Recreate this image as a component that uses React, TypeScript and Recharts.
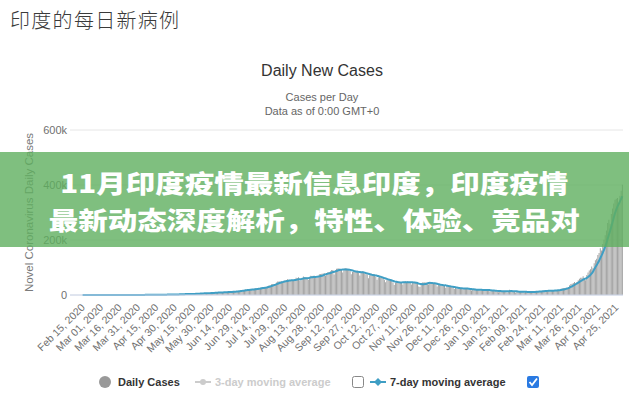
import React from 'react'
import { ComposedChart, Bar, Line, XAxis, YAxis, CartesianGrid, Label } from 'recharts'

// daily new cases in India, thousands
const casesFeb2020 = [0, 0, 0, 0, 0, 0, 0, 0, 0, 0, 0, 0, 0, 0, 0]
const casesMar2020 = [0, 0, 0, 0, 0, 0, 0, 0, 0, 0, 0, 0, 0, 0, 0, 0, 0, 0, 0, 0.1, 0.1, 0.1, 0.1, 0.1, 0.1, 0.1, 0.2, 0.2, 0.1, 0.2, 0.1]
const casesApr2020 = [0.4, 0.5, 0.6, 0.6, 0.5, 0.7, 0.5, 0.6, 0.8, 0.9, 0.9, 0.8, 0.9, 1.5, 0.9, 1.1, 1.0, 1.1, 1.3, 1.5, 1.5, 1.4, 1.5, 1.8, 1.8, 1.7, 1.5, 1.6, 1.8, 1.7]
const casesMay2020 = [2.0, 2.3, 2.6, 3.9, 2.9, 3.6, 3.3, 3.3, 3.3, 4.2, 3.6, 3.5, 3.8, 3.8, 3.9, 4.9, 5.0, 4.6, 5.6, 5.6, 6.1, 6.7, 6.8, 6.6, 6.5, 6.4, 6.4, 7.3, 7.9, 8.4, 8.8]
const casesJun2020 = [7.8, 8.1, 9.6, 9.3, 9.8, 10.4, 9.9, 8.4, 10.0, 11.0, 10.9, 11.9, 12.0, 11.5, 10.0, 11.1, 13.1, 12.9, 14.5, 14.8, 15.4, 14.8, 15.7, 16.9, 17.3, 18.6, 19.6, 19.5, 19.5, 18.9]
const casesJul2020 = [19.1, 21.9, 21.0, 22.8, 24.2, 22.3, 23.1, 24.9, 26.5, 27.1, 27.7, 28.6, 28.5, 29.1, 32.5, 34.8, 35.0, 38.9, 40.4, 40.2, 37.1, 45.7, 48.9, 49.3, 49.0, 49.9, 46.8, 48.5, 52.3, 54.9, 57.1]
const casesAug2020 = [55.1, 53.6, 52.5, 52.5, 52.5, 56.3, 62.5, 62.0, 64.4, 52.5, 53.6, 61.0, 66.9, 64.5, 64.7, 63.5, 54.3, 64.6, 69.7, 68.9, 69.9, 70.0, 61.4, 61.4, 67.2, 75.8, 76.8, 77.3, 78.5, 78.8, 69.9]
const casesSep2020 = [78.4, 83.9, 83.9, 86.4, 90.6, 90.6, 75.0, 89.7, 95.7, 96.6, 97.6, 94.4, 93.2, 81.9, 90.1, 97.9, 96.4, 93.3, 92.6, 86.9, 75.1, 83.3, 86.5, 86.1, 86.0, 88.6, 82.8, 70.6, 80.5, 86.8]
const casesOct2020 = [81.5, 79.5, 75.8, 74.4, 61.3, 72.0, 78.5, 70.5, 73.3, 74.4, 66.7, 55.3, 63.5, 67.7, 63.4, 62.2, 61.9, 55.7, 46.8, 54.0, 54.4, 56.0, 53.4, 50.1, 45.1, 36.5, 43.9, 49.9, 48.6, 48.3, 46.9]
const casesNov2020 = [46.2, 38.3, 46.3, 50.2, 47.6, 50.4, 46.3, 45.6, 38.1, 44.3, 47.9, 44.9, 44.7, 41.1, 30.5, 29.2, 38.6, 45.6, 45.9, 46.2, 45.2, 44.1, 37.9, 44.4, 44.5, 43.1, 41.3, 41.8, 38.8, 31.1]
const casesDec2020 = [36.6, 35.6, 35.6, 36.6, 36.7, 32.9, 26.6, 32.1, 31.5, 29.4, 30.0, 30.3, 27.1, 22.1, 26.4, 24.0, 22.9, 25.2, 25.1, 24.3, 19.6, 23.9, 23.9, 24.7, 23.1, 18.7, 20.0, 16.4, 21.0, 20.6, 20.0]
const casesJan2021 = [19.1, 18.2, 18.2, 16.5, 18.1, 20.3, 18.1, 18.1, 18.6, 18.6, 16.3, 12.6, 15.9, 16.9, 15.6, 15.2, 15.1, 13.8, 10.1, 13.8, 15.2, 14.5, 14.3, 14.0, 13.2, 9.1, 12.7, 18.9, 18.1, 13.1, 13.0]
const casesFeb2021 = [11.4, 8.6, 11.0, 12.9, 12.4, 11.7, 11.8, 11.8, 9.1, 11.0, 12.9, 9.3, 12.1, 12.2, 11.6, 9.1, 11.6, 12.9, 13.2, 13.9, 14.3, 14.2, 10.6, 13.7, 16.7, 16.6, 16.5, 16.8]
const casesMar2021 = [15.5, 12.3, 15.0, 17.4, 16.8, 18.3, 18.6, 18.7, 15.4, 17.9, 22.8, 23.3, 24.9, 25.3, 26.3, 24.5, 28.9, 35.9, 39.7, 40.9, 43.8, 46.9, 40.7, 47.3, 53.5, 59.1, 62.3, 62.6, 68.0, 56.2, 53.5]
const casesApr2021 = [72.3, 81.4, 89.1, 93.2, 103.6, 96.9, 115.3, 126.8, 131.9, 145.4, 152.9, 169.9, 161.7, 185.3, 200.7, 217.4, 234.7, 261.4, 273.8, 259.2, 295.0, 314.6, 332.5, 346.8, 349.7, 352.9, 323.1, 360.9, 379.3, 401.0]

// 7-day moving average, thousands
const avgFeb2020 = [0, 0, 0, 0, 0, 0, 0, 0, 0, 0, 0, 0, 0, 0, 0]
const avgMar2020 = [0, 0, 0, 0, 0, 0, 0, 0, 0, 0, 0, 0, 0, 0, 0, 0, 0, 0, 0, 0, 0.1, 0.1, 0.1, 0.1, 0.1, 0.1, 0.1, 0.1, 0.1, 0.1, 0.1]
const avgApr2020 = [0.2, 0.2, 0.3, 0.4, 0.4, 0.5, 0.5, 0.6, 0.6, 0.7, 0.7, 0.7, 0.8, 0.9, 1.0, 1.0, 1.0, 1.0, 1.1, 1.2, 1.2, 1.3, 1.3, 1.4, 1.5, 1.6, 1.6, 1.6, 1.7, 1.7]
const avgMay2020 = [1.7, 1.8, 1.9, 2.3, 2.5, 2.7, 2.9, 3.1, 3.3, 3.5, 3.5, 3.5, 3.6, 3.6, 3.7, 4.0, 4.1, 4.2, 4.5, 4.8, 5.1, 5.5, 5.8, 6.0, 6.3, 6.4, 6.5, 6.7, 6.8, 7.1, 7.4]
const avgJun2020 = [7.6, 7.8, 8.3, 8.6, 8.8, 9.1, 9.3, 9.4, 9.6, 9.8, 10.1, 10.4, 10.6, 10.8, 11.0, 11.2, 11.5, 11.8, 12.2, 12.6, 13.1, 13.8, 14.5, 15.0, 15.6, 16.2, 16.9, 17.5, 18.2, 18.6]
const avgJul2020 = [18.9, 19.6, 19.9, 20.4, 21.1, 21.5, 22.1, 22.9, 23.5, 24.4, 25.1, 25.7, 26.6, 27.5, 28.6, 29.8, 30.9, 32.5, 34.2, 35.8, 37.0, 38.9, 40.9, 42.9, 44.4, 45.7, 46.7, 48.3, 49.2, 50.1, 51.2]
const avgAug2020 = [52.1, 52.6, 53.4, 54.0, 54.0, 54.2, 55.0, 56.0, 57.5, 57.5, 57.7, 58.9, 60.4, 60.7, 61.1, 61.0, 61.2, 62.8, 64.0, 64.3, 65.1, 65.8, 65.5, 66.6, 66.9, 67.8, 68.9, 70.0, 71.2, 73.7, 74.9]
const avgSep2020 = [76.5, 77.7, 78.7, 80.0, 81.7, 83.4, 84.1, 85.7, 87.4, 89.2, 90.8, 91.4, 91.7, 92.7, 92.8, 93.1, 93.1, 92.5, 92.2, 91.3, 90.3, 89.4, 87.7, 86.3, 85.2, 84.6, 84.1, 83.4, 83.0, 83.1]
const avgOct2020 = [82.4, 81.5, 79.6, 78.4, 77.1, 75.9, 74.7, 73.1, 72.3, 72.1, 71.0, 70.1, 68.9, 67.3, 66.3, 64.7, 63.0, 61.4, 60.2, 58.8, 56.9, 55.9, 54.6, 52.9, 51.4, 49.9, 48.5, 47.8, 46.8, 46.1, 45.6]
const avgNov2020 = [45.8, 46.0, 46.4, 46.4, 46.2, 46.6, 46.5, 46.4, 46.4, 46.1, 45.7, 45.4, 44.5, 43.8, 41.6, 40.4, 39.6, 39.2, 39.4, 39.6, 40.2, 42.1, 43.4, 44.2, 44.0, 43.6, 42.9, 42.4, 41.7, 40.7]
const avgDec2020 = [39.6, 38.3, 37.3, 36.6, 35.9, 35.0, 35.1, 33.7, 33.1, 32.3, 31.3, 30.4, 29.6, 28.9, 28.1, 27.0, 26.1, 25.4, 24.7, 24.3, 23.9, 23.6, 23.6, 23.8, 23.5, 22.6, 22.0, 21.5, 21.1, 20.6, 20.0]
const avgJan2021 = [19.4, 19.3, 19.1, 19.1, 18.7, 18.6, 18.4, 18.2, 18.3, 18.3, 18.3, 17.5, 16.9, 16.7, 16.4, 15.9, 15.4, 15.0, 14.7, 14.4, 14.1, 14.0, 13.8, 13.7, 13.6, 13.4, 13.3, 13.8, 14.3, 14.2, 14.0]
const avgFeb2021 = [13.8, 13.7, 13.4, 12.6, 11.8, 11.6, 11.4, 11.5, 11.5, 11.5, 11.5, 11.1, 11.1, 11.2, 11.2, 11.2, 11.3, 11.3, 11.8, 12.1, 12.4, 12.7, 12.9, 13.3, 13.8, 14.3, 14.7, 15.0]
const avgMar2021 = [15.2, 15.4, 15.6, 15.7, 15.8, 16.0, 16.3, 16.7, 17.2, 17.6, 18.4, 19.3, 20.2, 21.2, 22.3, 23.6, 25.1, 27.0, 29.4, 31.6, 34.3, 37.2, 39.5, 42.2, 44.7, 47.5, 50.5, 53.2, 56.2, 58.4, 59.3]
const avgApr2021 = [62.0, 65.2, 69.0, 73.4, 78.5, 84.3, 93.1, 100.9, 108.1, 116.2, 124.7, 134.2, 143.4, 153.4, 164.0, 176.2, 188.9, 204.4, 219.3, 233.2, 248.9, 265.2, 281.6, 297.6, 310.2, 321.5, 330.7, 340.1, 349.3, 359.1]

const months = [
  { name: 'Feb', year: 2020, first: 15, cases: casesFeb2020, avg: avgFeb2020 },
  { name: 'Mar', year: 2020, first: 1, cases: casesMar2020, avg: avgMar2020 },
  { name: 'Apr', year: 2020, first: 1, cases: casesApr2020, avg: avgApr2020 },
  { name: 'May', year: 2020, first: 1, cases: casesMay2020, avg: avgMay2020 },
  { name: 'Jun', year: 2020, first: 1, cases: casesJun2020, avg: avgJun2020 },
  { name: 'Jul', year: 2020, first: 1, cases: casesJul2020, avg: avgJul2020 },
  { name: 'Aug', year: 2020, first: 1, cases: casesAug2020, avg: avgAug2020 },
  { name: 'Sep', year: 2020, first: 1, cases: casesSep2020, avg: avgSep2020 },
  { name: 'Oct', year: 2020, first: 1, cases: casesOct2020, avg: avgOct2020 },
  { name: 'Nov', year: 2020, first: 1, cases: casesNov2020, avg: avgNov2020 },
  { name: 'Dec', year: 2020, first: 1, cases: casesDec2020, avg: avgDec2020 },
  { name: 'Jan', year: 2021, first: 1, cases: casesJan2021, avg: avgJan2021 },
  { name: 'Feb', year: 2021, first: 1, cases: casesFeb2021, avg: avgFeb2021 },
  { name: 'Mar', year: 2021, first: 1, cases: casesMar2021, avg: avgMar2021 },
  { name: 'Apr', year: 2021, first: 1, cases: casesApr2021, avg: avgApr2021 },
]

const tickLabels = [
  'Feb 15, 2020', 'Mar 01, 2020', 'Mar 16, 2020', 'Mar 31, 2020', 'Apr 15, 2020', 'Apr 30, 2020',
  'May 15, 2020', 'May 30, 2020', 'Jun 14, 2020', 'Jun 29, 2020', 'Jul 14, 2020', 'Jul 29, 2020',
  'Aug 13, 2020', 'Aug 28, 2020', 'Sep 12, 2020', 'Sep 27, 2020', 'Oct 12, 2020', 'Oct 27, 2020',
  'Nov 11, 2020', 'Nov 26, 2020', 'Dec 11, 2020', 'Dec 26, 2020', 'Jan 10, 2021', 'Jan 25, 2021',
  'Feb 09, 2021', 'Feb 24, 2021', 'Mar 11, 2021', 'Mar 26, 2021', 'Apr 10, 2021', 'Apr 25, 2021',
]
const yTicks = [0, 200, 400, 600]

const rows = months.flatMap(m =>
  m.cases.map((c, i) => ({
    date: `${m.name} ${String(m.first + i).padStart(2, '0')}, ${m.year}`,
    cases: c,
    avg: m.avg[i],
  }))
)

const FONT = '"Liberation Sans", Arial, sans-serif'
const CJK = '"Noto Sans CJK SC", sans-serif'
const BLUE = '#3f9ec4'

const DateTick = (props: any) => {
  const { x, y, payload } = props
  const px = x + 3
  const py = y + 5
  return (
    <text x={px} y={py} transform={`rotate(-45 ${px} ${py})`} textAnchor="end"
      fontSize={10.5} fill="#707070" fontFamily={FONT}>
      {payload.value}
    </text>
  )
}

const App = () => {
  return (
    <div style={{ position: 'absolute', left: 0, top: 0, width: 629, height: 400, background: '#fff', overflow: 'hidden' }}>
      <div style={{ position: 'absolute', left: 10, top: 6, fontFamily: CJK, fontSize: 20, letterSpacing: 1.3, color: '#3a3a3a', fontWeight: 300, lineHeight: '28px' }}>
        印度的每日新病例
      </div>
      <div style={{ position: 'absolute', left: 0, width: 644, top: 61, textAlign: 'center', fontFamily: FONT, fontSize: 16, color: '#333', lineHeight: '20px' }}>
        Daily New Cases
      </div>
      <div style={{ position: 'absolute', left: 0, width: 644, top: 90, textAlign: 'center', fontFamily: FONT, fontSize: 11, color: '#666', lineHeight: '14px' }}>
        Cases per Day<br />Data as of 0:00 GMT+0
      </div>

      <div style={{ position: 'absolute', left: 0, top: 0 }}>
        <ComposedChart width={629} height={400} data={rows} barCategoryGap="10%"
          margin={{ top: 130, right: 6, bottom: 0, left: 0 }}>
          <CartesianGrid vertical={false} stroke="#e6e6e6" />
          <XAxis dataKey="date" ticks={tickLabels} interval={0} tick={<DateTick />} tickLine={false}
            axisLine={{ stroke: '#ccd6eb' }} padding={{ left: 12, right: 0 }} height={105} />
          <YAxis domain={[0, 600]} ticks={yTicks} width={70} axisLine={false} tickLine={false}
            tickSize={0} tickMargin={3}
            tickFormatter={(v: number) => (v === 0 ? '0' : `${v}k`)}
            tick={{ fontSize: 11, fill: '#707070', fontFamily: FONT }}>
            <Label value="Novel Coronavirus Daily Cases" angle={-90} position="insideLeft" offset={29}
              style={{ textAnchor: 'middle', fontSize: 11.5, fill: '#7a7a7a', fontFamily: FONT }} />
          </YAxis>
          <Bar dataKey="cases" fill="#a2a2a2" isAnimationActive={false} />
          <Line dataKey="avg" type="monotone" stroke={BLUE} strokeWidth={2} dot={false} isAnimationActive={false} />
        </ComposedChart>
      </div>

      {/* legend */}
      <svg style={{ position: 'absolute', left: 0, top: 370 }} width={629} height={26}>
        <circle cx={105} cy={12} r={6} fill="#999" />
        <text x={118} y={16} fontFamily={FONT} fontSize={11} fontWeight="bold" fill="#333">Daily Cases</text>
        <line x1={195} x2={211} y1={12} y2={12} stroke="#ccc" strokeWidth={2} />
        <circle cx={203} cy={12} r={3} fill="#ccc" />
        <text x={215} y={16} fontFamily={FONT} fontSize={11} fontWeight="bold" fill="#ccc">3-day moving average</text>
        <rect x={352.5} y={6.5} width={11} height={11} rx={2} fill="#fff" stroke="#888" />
        <line x1={370} x2={386} y1={12} y2={12} stroke={BLUE} strokeWidth={2} />
        <path d="M378 8 L382 12 L378 16 L374 12 Z" fill={BLUE} />
        <text x={390} y={16} fontFamily={FONT} fontSize={11} fontWeight="bold" fill="#333">7-day moving average</text>
        <rect x={527} y={6} width={12} height={12} rx={2} fill="#2a7ae2" />
        <path d="M529.5 12 L532 15 L537 8.5" fill="none" stroke="#fff" strokeWidth={1.8} />
      </svg>

      {/* overlay banner */}
      <div style={{ position: 'absolute', left: 0, top: 152, width: 629, height: 95, background: 'rgba(95,175,95,0.8)' }}>
        <div style={{ position: 'absolute', left: 0, width: 629, top: 12, textAlign: 'center', color: '#fff', fontFamily: CJK, fontWeight: 900, fontSize: 25, lineHeight: '37px', transform: 'scaleX(1.18)', transformOrigin: '316px 0' }}>
          11月印度疫情最新信息印度，印度疫情<br />最新动态深度解析，特性、体验、竞品对
        </div>
      </div>
    </div>
  )
}

export default App
